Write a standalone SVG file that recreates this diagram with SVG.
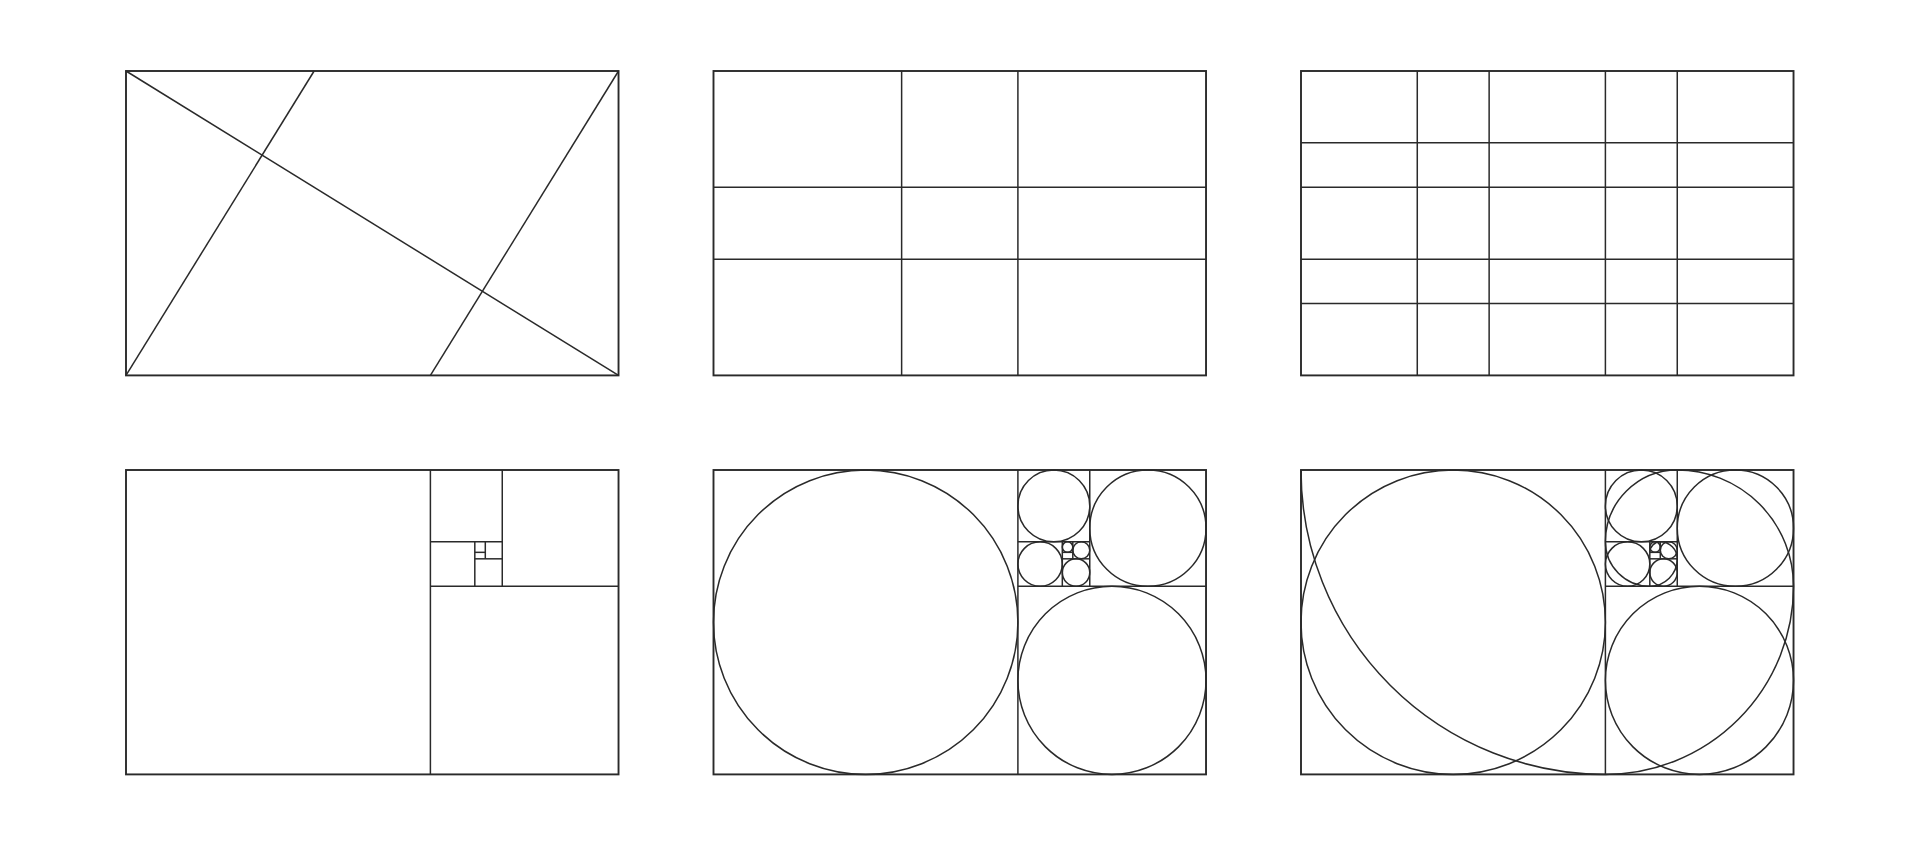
<svg xmlns="http://www.w3.org/2000/svg" xmlns:xlink="http://www.w3.org/1999/xlink" width="1920" height="845" viewBox="0 0 1920 845">
  <style>
    .ln { fill: none; stroke: #2a2a2a; stroke-width: 1.5; }
    .frame { fill: none; stroke: #2a2a2a; stroke-width: 1.9; }
  </style>
  <defs>
    <rect id="frame" class="frame" x="0" y="0" width="492.53" height="304.4"/>
    <g id="squares" class="ln">
      <line x1="304.4" y1="0" x2="304.4" y2="304.4"/>
      <line x1="304.4" y1="116.27" x2="492.53" y2="116.27"/>
      <line x1="376.26" y1="0" x2="376.26" y2="116.27"/>
      <line x1="304.4" y1="71.86" x2="376.26" y2="71.86"/>
      <line x1="348.81" y1="71.86" x2="348.81" y2="116.27"/>
      <line x1="348.81" y1="88.82" x2="376.26" y2="88.82"/>
      <line x1="359.30" y1="71.86" x2="359.30" y2="88.82"/>
      <line x1="348.81" y1="82.34" x2="359.30" y2="82.34"/>
    </g>
    <g id="circles" class="ln">
      <circle cx="152.2" cy="152.2" r="152.2"/>
      <circle cx="398.47" cy="210.33" r="94.07"/>
      <circle cx="434.40" cy="58.13" r="58.13"/>
      <circle cx="340.33" cy="35.93" r="35.93"/>
      <circle cx="326.61" cy="94.07" r="22.2"/>
      <circle cx="362.54" cy="102.55" r="13.72"/>
      <circle cx="367.78" cy="80.34" r="8.48"/>
      <circle cx="354.05" cy="77.10" r="5.24"/>
    </g>
  </defs>
  <rect x="0" y="0" width="1920" height="845" fill="#ffffff"/>

  <g id="diagonal-grid" transform="translate(126,71)">
    <use xlink:href="#frame"/>
    <g class="ln">
      <line x1="0" y1="0" x2="492.53" y2="304.4"/>
      <line x1="0" y1="304.4" x2="188.13" y2="0"/>
      <line x1="492.53" y1="0" x2="304.4" y2="304.4"/>
    </g>
  </g>

  <g id="phi-grid" transform="translate(713.5,71)">
    <use xlink:href="#frame"/>
    <g class="ln">
      <line x1="188.13" y1="0" x2="188.13" y2="304.4"/>
      <line x1="304.4" y1="0" x2="304.4" y2="304.4"/>
      <line x1="0" y1="116.27" x2="492.53" y2="116.27"/>
      <line x1="0" y1="188.13" x2="492.53" y2="188.13"/>
    </g>
  </g>

  <g id="fine-phi-grid" transform="translate(1301,71)">
    <use xlink:href="#frame"/>
    <g class="ln">
      <line x1="116.27" y1="0" x2="116.27" y2="304.4"/>
      <line x1="188.13" y1="0" x2="188.13" y2="304.4"/>
      <line x1="304.4" y1="0" x2="304.4" y2="304.4"/>
      <line x1="376.26" y1="0" x2="376.26" y2="304.4"/>
      <line x1="0" y1="71.86" x2="492.53" y2="71.86"/>
      <line x1="0" y1="116.27" x2="492.53" y2="116.27"/>
      <line x1="0" y1="188.13" x2="492.53" y2="188.13"/>
      <line x1="0" y1="232.54" x2="492.53" y2="232.54"/>
    </g>
  </g>

  <g id="golden-squares" transform="translate(126,470)">
    <use xlink:href="#frame"/>
    <use xlink:href="#squares"/>
  </g>

  <g id="golden-circles" transform="translate(713.5,470)">
    <use xlink:href="#frame"/>
    <use xlink:href="#squares"/>
    <use xlink:href="#circles"/>
  </g>

  <g id="golden-spiral" transform="translate(1301,470)">
    <use xlink:href="#frame"/>
    <use xlink:href="#squares"/>
    <use xlink:href="#circles"/>
    <path class="ln" d="M0,0 A304.4,304.4 0 0 0 304.4,304.4 A188.13,188.13 0 0 0 492.53,116.27 A116.27,116.27 0 0 0 376.26,0 A71.86,71.86 0 0 0 304.4,71.86 A44.41,44.41 0 0 0 348.81,116.27 A27.45,27.45 0 0 0 376.26,88.82 A16.96,16.96 0 0 0 359.30,71.86 A10.48,10.48 0 0 0 348.81,82.34"/>
  </g>
</svg>
